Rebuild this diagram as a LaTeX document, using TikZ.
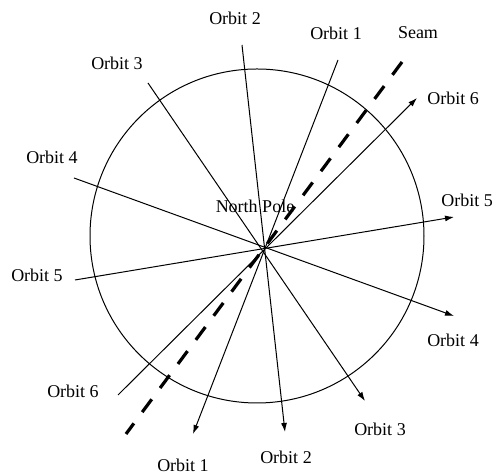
\documentclass[tikz,border=0pt]{standalone}
\usepackage{fontspec}
\setmainfont{Liberation Serif}
\usepackage{tikz}
\usetikzlibrary{arrows.meta}

\begin{document}
\begin{tikzpicture}[x=0.5pt, y=-0.5pt, >={Latex[length=4.5pt,width=3pt]},
  every node/.style={font=\fontsize{9}{11}\selectfont, inner sep=0pt},
  orbit/.style={line width=0.5pt},
  seamline/.style={line width=1.6pt, dash pattern=on 8pt off 7pt}]
\useasboundingbox (0,0) rectangle (494,474);

% globe and pole
\node[draw, circle, line width=0.5pt, minimum size=167pt] (globe) at (257,236) {};
\coordinate (pole) at (265,247);
\node (polelbl) at (255,206) {North Pole};

% orbit ends
\coordinate (o1s) at (338,60);  \coordinate (o1e) at (193,434);
\coordinate (o2s) at (242,45);  \coordinate (o2e) at (285,432);
\coordinate (o3s) at (148,83);  \coordinate (o3e) at (365,401);
\coordinate (o4s) at (74,178);  \coordinate (o4e) at (454,316);
\coordinate (o5s) at (75,280);  \coordinate (o5e) at (454,217);
\coordinate (o6s) at (118,395); \coordinate (o6e) at (417,98);
\coordinate (seams) at (402,62); \coordinate (seame) at (126,434);

% labels
\node (o1top) at (336,33) {Orbit 1};
\node (o2top) at (235,18) {Orbit 2};
\node (o3top) at (117,63) {Orbit 3};
\node (o4left) at (52,157) {Orbit 4};
\node (o5left) at (37,275) {Orbit 5};
\node (o6left) at (73,391) {Orbit 6};
\node (o1bot) at (183,465) {Orbit 1};
\node (o2bot) at (286,457) {Orbit 2};
\node (o3bot) at (380,429) {Orbit 3};
\node (o4right) at (453,340) {Orbit 4};
\node[anchor=west] (o5right) at (441,200) {Orbit 5};
\node[anchor=west] (o6right) at (427,98) {Orbit 6};
\node (seamlbl) at (418,33) {Seam};

% orbits
\draw[orbit, ->] (o1s) -- (o1e);
\draw[orbit, ->] (o2s) -- (o2e);
\draw[orbit, ->] (o3s) -- (o3e);
\draw[orbit, ->] (o4s) -- (o4e);
\draw[orbit, ->] (o5s) -- (o5e);
\draw[orbit, ->] (o6s) -- (o6e);
\draw[seamline] (seams) -- (seame);
\end{tikzpicture}
\end{document}
